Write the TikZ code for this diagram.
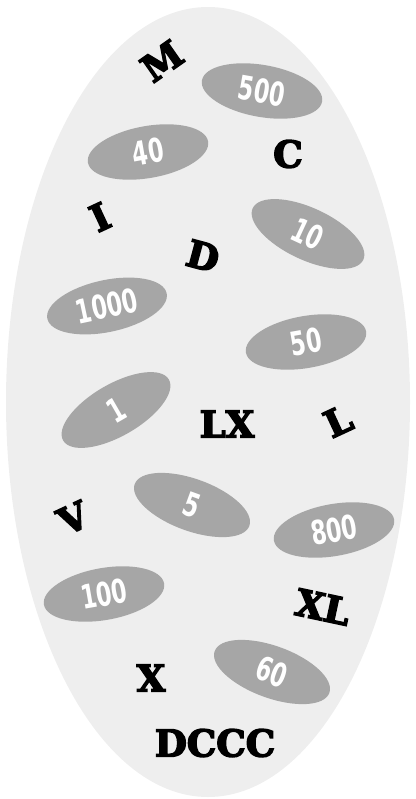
\documentclass[tikz,border=0pt]{standalone}
\usepackage{fontspec}
\usetikzlibrary{shapes.geometric}
\newfontfamily\numfont{DejaVu Sans}[FakeStretch=0.68]
\newfontfamily\romfont{DejaVu Serif}[BoldFeatures={FakeBold=4}]
\definecolor{bgcol}{HTML}{EEEEEE}
\definecolor{numcol}{HTML}{A6A6A6}
\tikzset{
  numbox/.style={ellipse, fill=numcol, minimum width=122pt, minimum height=52pt, inner sep=0pt,
    text=white, font=\numfont\bfseries\fontsize{33}{33}\selectfont},
  roman/.style={inner sep=0pt, text=black, font=\romfont\bfseries\fontsize{37}{37}\selectfont}
}
\begin{document}
\begin{tikzpicture}[x=1pt,y=-1pt]
\useasboundingbox (0,0) rectangle (415,799);
\fill[bgcol] (208,402) ellipse [x radius=202, y radius=395];
\node[numbox, rotate=-10] (n500) at (262,91) {500};
\node[numbox, rotate=10] (n40) at (148,152) {40};
\node[numbox, rotate=-25] (n10) at (308,234) {10};
\node[numbox, rotate=12] (n1000) at (107,306) {1000};
\node[numbox, rotate=10] (n50) at (306,342) {50};
\node[numbox, rotate=30] (n1) at (116,410) {1};
\node[numbox, rotate=-20] (n5) at (192,505) {5};
\node[numbox, rotate=10] (n800) at (334,530) {800};
\node[numbox, rotate=10] (n100) at (104,594) {100};
\node[numbox, rotate=-20] (n60) at (272,672) {60};
\node[roman, rotate=35] (rM) at (162,61) {M};
\node[roman] (rC) at (288,154) {C};
\node[roman, rotate=25] (rI) at (100,217) {I};
\node[roman, rotate=-15] (rD) at (203,256) {D};
\node[roman] (rLX) at (227,424) {LX};
\node[roman, rotate=25] (rL) at (338,421) {L};
\node[roman, rotate=25] (rV) at (73,518) {V};
\node[roman, rotate=-12] (rXL) at (323,607) {XL};
\node[roman] (rX) at (151,678) {X};
\node[roman] (rDCCC) at (215,743) {DCCC};
\end{tikzpicture}
\end{document}
